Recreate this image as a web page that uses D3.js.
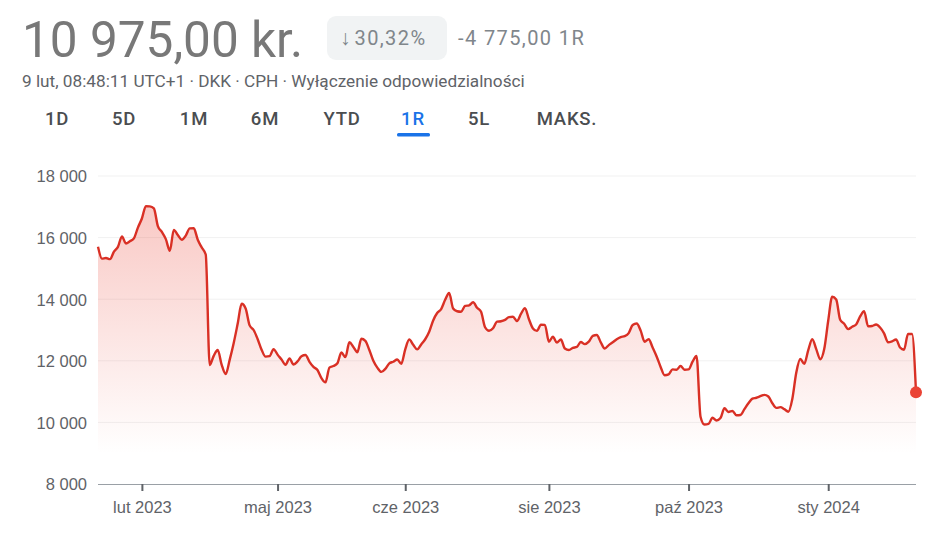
<!DOCTYPE html>
<html lang="pl">
<head>
<meta charset="utf-8">
<title>10 975,00 kr. — 1R</title>
<script src="https://cdn.jsdelivr.net/npm/d3@7"></script>
<style>
  html, body { margin: 0; padding: 0; background: #fff; }
  #chart { width: 948px; height: 534px; }
  svg { display: block; font-family: Roboto, "Noto Sans", Arial, sans-serif; }
  .price { fill: #787878; font-size: 49.5px; }
  .change { fill: #80868b; font-size: 20px; letter-spacing: 1.4px; }
  .meta { fill: #5f6368; font-size: 17.2px; }
  .tab { fill: #4a4d50; font-size: 18.5px; font-weight: 500; letter-spacing: 0.8px; text-anchor: middle; }
  .tab.is-active { fill: #1a73e8; }
  .axis text { fill: #5f6368; font-size: 16.5px; }
  .grid line { stroke: #f1f1f1; stroke-width: 1; }
</style>
</head>
<body>
<div id="chart"></div>
<script>
(function () {
  "use strict";

  // closing prices, one per trading day, 9 lut 2023 .. 9 lut 2024 (DKK)
  const prices = [
    15705, 15316, 15340, 15300, 15542, 15700, 16040, 15810, 15880, 15977,
    16325, 16620, 17020, 17015, 16951, 16375, 16185, 15950, 15570, 16250,
    16085, 15930, 16065, 16300, 16302, 15930, 15680, 15450, 11863, 12160,
    12350, 11870, 11570, 12030, 12570, 13200, 13850, 13700, 13150, 13000,
    12710, 12360, 12135, 12150, 12380, 12200, 12040, 11870, 12080, 11880,
    11980, 12150, 12190, 11965, 11800, 11700, 11440, 11300, 11780, 11830,
    11920, 12270, 12120, 12600, 12450, 12280, 12715, 12650, 12350, 12000,
    11780, 11640, 11740, 11918, 11970, 12040, 11900, 12370, 12690, 12520,
    12370, 12530, 12700, 12945, 13310, 13550, 13680, 13980, 14200, 13700,
    13610, 13594, 13780, 13800, 13900, 13720, 13590, 13090, 12975, 13055,
    13270, 13285, 13330, 13420, 13430, 13290, 13520, 13710, 13350, 13050,
    12970, 13170, 13165, 12620, 12780, 12590, 12690, 12400, 12350, 12420,
    12450, 12610, 12540, 12620, 12810, 12840, 12600, 12400, 12510, 12600,
    12700, 12770, 12800, 12900, 13160, 13210, 12980, 12620, 12700, 12430,
    12140, 11800, 11530, 11560, 11720, 11710, 11831, 11710, 11720, 11970,
    12156, 10185, 9930, 9950, 10150, 10060, 10140, 10460, 10340, 10370,
    10230, 10240, 10430, 10620, 10770, 10800, 10850, 10895, 10840, 10620,
    10470, 10495, 10430, 10347, 10760, 11620, 12060, 11900, 12350, 12700,
    12380, 12050, 12380, 13300, 14080, 13990, 13330, 13200, 13030, 13107,
    13180, 13440, 13610, 13120, 13130, 13180, 13080, 12890, 12600, 12630,
    12690, 12430, 12360, 12870, 12870, 10975
  ];

  const xTickIndex = [11, 45, 77, 113, 148, 183];
  const xTickLabels = ["lut 2023", "maj 2023", "cze 2023", "sie 2023", "paź 2023", "sty 2024"];
  const yTicks = [8000, 10000, 12000, 14000, 16000, 18000];
  const tabs = ["1D", "5D", "1M", "6M", "YTD", "1R", "5L", "MAKS."];
  const tabCenters = [57, 124, 194, 265, 342, 413, 479, 567];
  const activeTab = "1R";

  const priceText = "10 975,00 kr.";
  const changeArrow = "\u2193";
  const changePct = "30,32%";
  const changeAbs = "-4 775,00 1R";
  const metaText = "9 lut, 08:48:11 UTC+1 \u00b7 DKK \u00b7 CPH \u00b7 Wyłączenie odpowiedzialności";

  const width = 948;
  const height = 534;
  const plotLeft = 98;
  const plotRight = 916;
  const plotTop = 176;
  const plotBottom = 484;

  const pl = d3.formatLocale({ decimal: ",", thousands: "\u00a0", grouping: [3], currency: ["", " kr."] });
  const fmt = pl.format(",d");

  const svg = d3.select("#chart")
    .append("svg")
    .attr("width", width)
    .attr("height", height)
    .attr("viewBox", [0, 0, width, height]);

  // header
  svg.append("text").attr("class", "price").attr("x", 22).attr("y", 57).text(priceText);

  svg.append("rect")
    .attr("x", 327).attr("y", 16)
    .attr("width", 120).attr("height", 44)
    .attr("rx", 9)
    .attr("fill", "#f1f3f4");
  const pct = svg.append("text").attr("class", "change").attr("x", 340).attr("y", 45);
  pct.append("tspan").attr("font-size", 21).attr("font-weight", 300).attr("letter-spacing", 0).text(changeArrow);
  pct.append("tspan").attr("dx", 4).text(changePct);
  svg.append("text").attr("class", "change").attr("x", 458).attr("y", 45).text(changeAbs);

  svg.append("text").attr("class", "meta").attr("x", 22).attr("y", 87).text(metaText);

  const tabG = svg.append("g").attr("class", "tabs");
  tabG.selectAll("text")
    .data(tabs)
    .join("text")
    .attr("class", (d) => d === activeTab ? "tab is-active" : "tab")
    .attr("x", (_, i) => tabCenters[i])
    .attr("y", 125)
    .text((d) => d);

  const activeIdx = tabs.indexOf(activeTab);
  tabG.append("rect")
    .attr("x", tabCenters[activeIdx] - 16)
    .attr("y", 133)
    .attr("width", 33)
    .attr("height", 3.5)
    .attr("rx", 1.5)
    .attr("fill", "#1a73e8");

  // scales
  const x = d3.scaleLinear().domain([0, prices.length - 1]).range([plotLeft, plotRight]);
  const y = d3.scaleLinear().domain([8000, 18000]).range([plotBottom, plotTop]);

  // grid
  svg.append("g")
    .attr("class", "grid")
    .selectAll("line")
    .data(yTicks.slice(1))
    .join("line")
    .attr("x1", plotLeft)
    .attr("x2", plotRight)
    .attr("y1", y)
    .attr("y2", y);

  // y labels
  svg.append("g")
    .attr("class", "axis")
    .attr("transform", `translate(${plotLeft},0)`)
    .call(d3.axisLeft(y).tickValues(yTicks).tickFormat(fmt).tickSize(0).tickPadding(11))
    .call((g) => g.select(".domain").remove())
    .call((g) => g.selectAll("text").attr("font-family", null).attr("font-size", null).attr("dy", "0.36em"));

  // area + line
  const defs = svg.append("defs");
  const grad = defs.append("linearGradient")
    .attr("id", "area-fill")
    .attr("gradientUnits", "userSpaceOnUse")
    .attr("x1", 0).attr("x2", 0)
    .attr("y1", plotTop + 20).attr("y2", plotBottom - 30);
  grad.append("stop").attr("offset", 0).attr("stop-color", "#ea4335").attr("stop-opacity", 0.3);
  grad.append("stop").attr("offset", 1).attr("stop-color", "#ea4335").attr("stop-opacity", 0.0);

  const area = d3.area()
    .x((_, i) => x(i))
    .y0(plotBottom)
    .y1((d) => y(d))
    .curve(d3.curveMonotoneX);

  const line = d3.line()
    .x((_, i) => x(i))
    .y((d) => y(d))
    .curve(d3.curveMonotoneX);

  svg.append("path").datum(prices).attr("d", area).attr("fill", "url(#area-fill)");

  // x axis
  const xAxis = svg.append("g")
    .attr("class", "axis")
    .attr("transform", `translate(0,${plotBottom})`)
    .call(d3.axisBottom(x).tickValues(xTickIndex).tickFormat((_, i) => xTickLabels[i]).tickSize(7).tickPadding(10))
    .call((g) => g.selectAll("text").attr("font-family", null).attr("font-size", null));
  xAxis.select(".domain")
    .attr("d", `M${plotLeft},0.5H${plotRight}`)
    .attr("stroke", "#9aa0a6")
    .attr("stroke-width", 1.2);
  xAxis.selectAll(".tick line").attr("stroke", "#5f6368").attr("stroke-width", 2);

  svg.append("path")
    .datum(prices)
    .attr("d", line)
    .attr("fill", "none")
    .attr("stroke", "#d93025")
    .attr("stroke-width", 2.4)
    .attr("stroke-linejoin", "round");

  const last = prices.length - 1;
  svg.append("circle")
    .attr("cx", x(last))
    .attr("cy", y(prices[last]))
    .attr("r", 6)
    .attr("fill", "#ea4335");
})();
</script>
</body>
</html>
